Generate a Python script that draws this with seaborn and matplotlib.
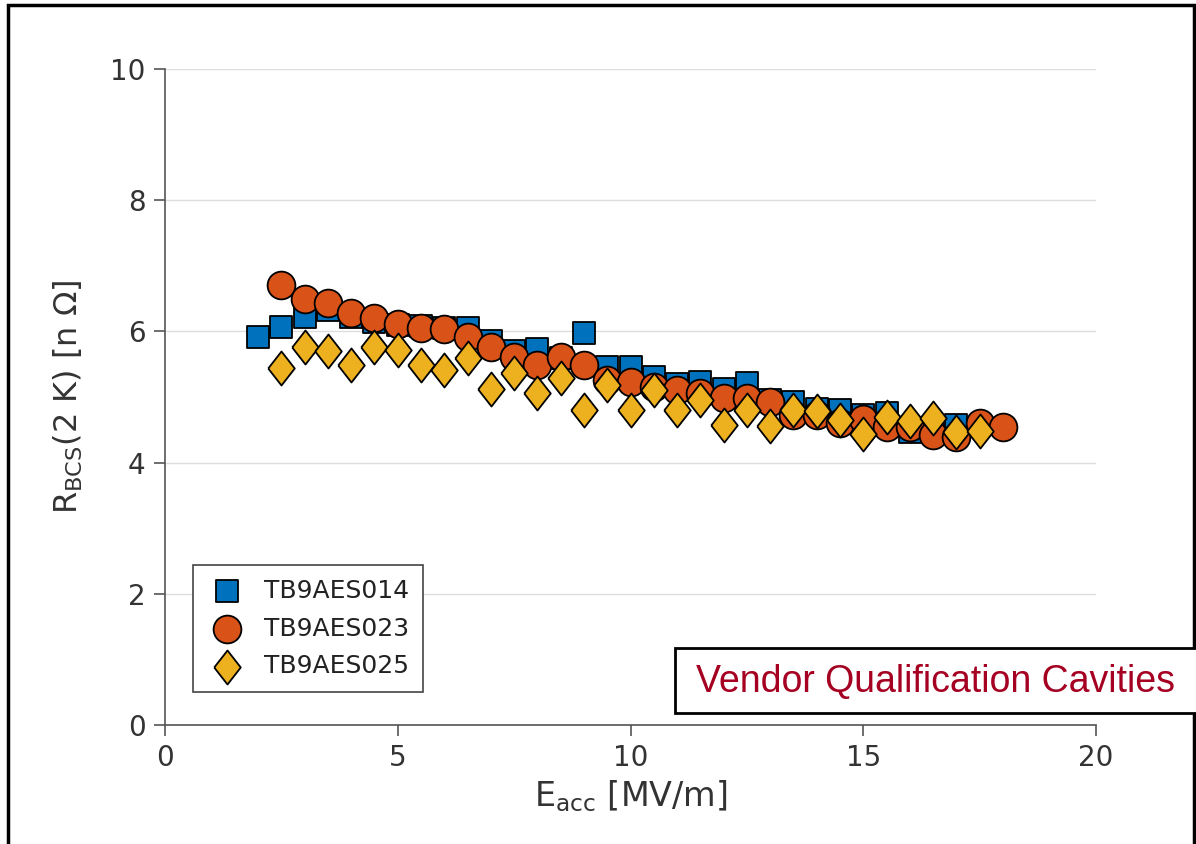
import numpy as np
import pandas as pd
import matplotlib
matplotlib.use("Agg")
import matplotlib.pyplot as plt
import seaborn as sns
from matplotlib.patches import Rectangle

# ---- data ----
x014 = [2.0, 2.5, 3.0, 3.5, 4.0, 4.5, 5.0, 5.5, 6.0, 6.5, 7.0, 7.5, 8.0, 8.5, 9.0,
        9.5, 10.0, 10.5, 11.0, 11.5, 12.0, 12.5, 13.0, 13.5, 14.0, 14.5, 15.0, 15.5,
        16.0, 16.5, 17.0]
y014 = [5.91, 6.07, 6.22, 6.32, 6.22, 6.15, 6.1, 6.08, 6.05, 6.05, 5.85, 5.7, 5.73,
        5.6, 5.97, 5.45, 5.45, 5.3, 5.2, 5.23, 5.12, 5.21, 4.95, 4.93, 4.82, 4.8,
        4.73, 4.76, 4.47, 4.5, 4.57]
x023 = [2.5, 3.0, 3.5, 4.0, 4.5, 5.0, 5.5, 6.0, 6.5, 7.0, 7.5, 8.0, 8.5, 9.0, 9.5,
        10.0, 10.5, 11.0, 11.5, 12.0, 12.5, 13.0, 13.5, 14.0, 14.5, 15.0, 15.5, 16.0,
        16.5, 17.0, 17.5, 18.0]
y023 = [6.7, 6.5, 6.43, 6.28, 6.2, 6.12, 6.05, 6.03, 5.92, 5.76, 5.61, 5.49, 5.61,
        5.49, 5.26, 5.23, 5.15, 5.1, 5.06, 4.98, 4.98, 4.93, 4.72, 4.72, 4.6, 4.66,
        4.55, 4.55, 4.42, 4.39, 4.6, 4.55]
x025 = [2.5, 3.0, 3.5, 4.0, 4.5, 5.0, 5.5, 6.0, 6.5, 7.0, 7.5, 8.0, 8.5, 9.0, 9.5,
        10.0, 10.5, 11.0, 11.5, 12.0, 12.5, 13.0, 13.5, 14.0, 14.5, 15.0, 15.5, 16.0,
        16.5, 17.0, 17.5]
y025 = [5.44, 5.76, 5.7, 5.49, 5.76, 5.72, 5.49, 5.41, 5.6, 5.12, 5.36, 5.06, 5.29,
        4.8, 5.18, 4.8, 5.1, 4.8, 4.95, 4.57, 4.8, 4.56, 4.8, 4.78, 4.65, 4.44, 4.69,
        4.64, 4.68, 4.47, 4.48]
labels = ["TB9AES014", "TB9AES023", "TB9AES025"]
xticks = [0, 5, 10, 15, 20]
yticks = [0, 2, 4, 6, 8, 10]
note = "Vendor Qualification Cavities"

sns.set_theme(style="white")
plt.rcParams['font.family'] = ['DejaVu Sans']
plt.rcParams['mathtext.fontset'] = 'dejavusans'

W, H = 1196, 844
fig = plt.figure(figsize=(W/100, H/100), dpi=100)
ax = fig.add_axes([165/W, 1-725/H, 931/W, 656/H])

diamond = [(-0.39, 0.0), (0.0, 0.5), (0.39, 0.0), (0.0, -0.5), (-0.39, 0.0)]
specs = [
    (x014, y014, labels[0], "#0072BD", "s", 16.5),
    (x023, y023, labels[1], "#D95319", "o", 20),
    (x025, y025, labels[2], "#EDB120", diamond, 24.5),
]
for xs, ys, lab, col, mk, ms in specs:
    df = pd.DataFrame({"x": xs, "y": ys})
    sns.scatterplot(data=df, x="x", y="y", ax=ax, color=col, marker=mk, s=ms**2,
                    edgecolor="black", linewidth=1.3, label=lab, zorder=3)

ax.set_xlim(0, 20)
ax.set_ylim(0, 10)
ax.set_xticks(xticks)
ax.set_yticks(yticks)
ax.grid(axis="y", color="#dddddd", linewidth=1)
ax.grid(axis="x", visible=False)
for s in ["top", "right"]:
    ax.spines[s].set_visible(False)
for s in ["left", "bottom"]:
    ax.spines[s].set_color("#555555")
    ax.spines[s].set_linewidth(1.2)
ax.tick_params(axis="both", direction="out", length=8, width=1.2, color="#555555",
               labelsize=20, labelcolor="#333333", left=True, bottom=True, pad=6)

ax.set_xlabel(r"$\mathregular{E_{acc}}$ [MV/m]", fontsize=24, color="#333333", labelpad=4)
ax.set_ylabel(r"$\mathregular{R_{BCS}}$(2 K) [n $\Omega$]", fontsize=23, color="#333333", labelpad=18)

leg = ax.legend(loc="lower left", bbox_to_anchor=(28/931, 33/656), borderaxespad=0,
                fontsize=18, frameon=True, fancybox=False, edgecolor="#444444",
                framealpha=1, handletextpad=0.7, borderpad=0.55, labelspacing=0.55,
                markerscale=1.0, handlelength=1.6)
leg.get_frame().set_linewidth(1.2)
for t in leg.get_texts():
    t.set_color("#222222")

# annotation box
fig.patches.append(Rectangle((675/W, 1-713/H), 530/W, 65/H, transform=fig.transFigure,
                             facecolor="white", edgecolor="black", linewidth=2, zorder=5))
fig.text(935/W, 1-682/H, note, family="Liberation Sans", fontsize=27,
         color="#A50021", ha="center", va="center", zorder=6)

fig.patches.append(Rectangle((8/W, -0.01), 1186/W, 1-5/H+0.01, transform=fig.transFigure,
                             fill=False, edgecolor="black", linewidth=2.5))

fig.savefig("out.png", dpi=100)
